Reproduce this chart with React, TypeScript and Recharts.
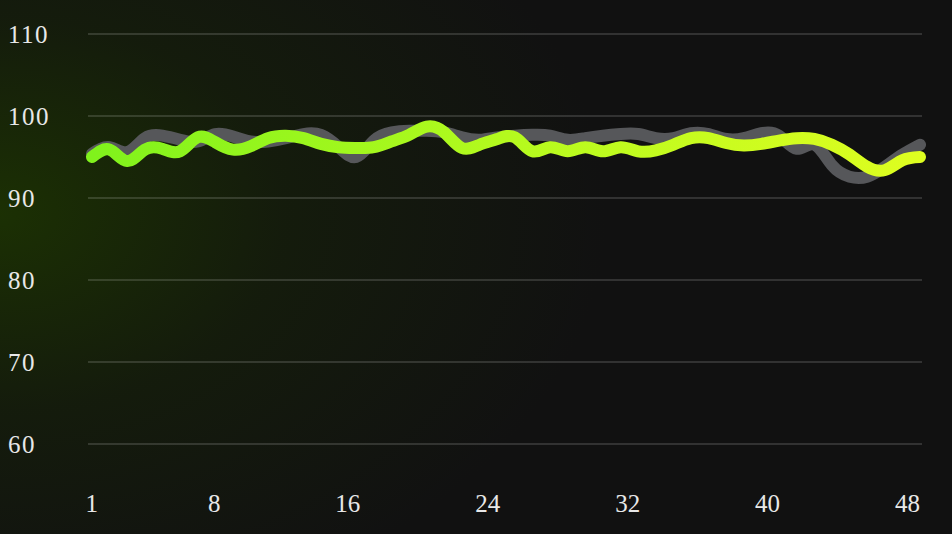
import React from "react";
import { LineChart, Line, XAxis, YAxis, CartesianGrid } from "recharts";

// x categories (1..48)
const days = [
  1, 2, 3, 4, 5, 6, 7, 8, 9, 10, 11, 12, 13, 14, 15, 16, 17, 18, 19, 20, 21, 22, 23, 24,
  25, 26, 27, 28, 29, 30, 31, 32, 33, 34, 35, 36, 37, 38, 39, 40, 41, 42, 43, 44, 45, 46, 47, 48,
];

// grey background series
const baseline = [
  95.4, 96.2, 95.6, 97.3, 97.6, 97.1, 96.9, 97.8, 97.5, 96.9, 96.9, 97.3,
  97.8, 97.7, 96.2, 95.0, 97.0, 98.0, 98.2, 98.2, 98.0, 97.4, 97.1, 97.4,
  97.6, 97.7, 97.6, 97.1, 97.3, 97.6, 97.8, 97.8, 97.3, 97.3, 97.9, 97.8,
  97.2, 97.3, 97.9, 97.6, 96.0, 96.5, 94.0, 92.6, 92.6, 93.8, 95.3, 96.5,
];

// highlighted green series
const current = [
  95.0, 95.9, 94.5, 95.9, 96.0, 95.7, 97.4, 96.8, 95.9, 96.3, 97.3, 97.6,
  97.3, 96.6, 96.2, 96.1, 96.2, 96.9, 97.7, 98.7, 98.0, 96.1, 96.5, 97.2,
  97.4, 95.7, 96.2, 95.7, 96.2, 95.7, 96.2, 95.7, 95.8, 96.5, 97.3, 97.3,
  96.7, 96.4, 96.6, 97.0, 97.3, 97.2, 96.5, 95.3, 93.8, 93.4, 94.6, 95.0,
];

const xTicks = [1, 8, 16, 24, 32, 40, 48];
const yTicks = [60, 70, 80, 90, 100, 110];

const data = days.map((d, i) => ({ day: d, baseline: baseline[i], current: current[i] }));

const FONT = "'Liberation Serif', 'Times New Roman', serif";

// labels are right-aligned, drifting slightly left across the axis
const XTick = ({ x, y, payload }: any) => (
  <text
    x={x + 6 - (6 * (payload.value - 1)) / 47}
    y={y + 51}
    textAnchor="end"
    dominantBaseline="central"
    fill="#e8e8e8"
    fontSize={25}
    fontFamily={FONT}
  >
    {payload.value}
  </text>
);

const YTick = ({ y, payload }: any) => (
  <text
    x={8}
    y={y}
    textAnchor="start"
    dominantBaseline="central"
    fill="#e8e8e8"
    fontSize={25}
    fontFamily={FONT}
    letterSpacing={1.5}
  >
    {payload.value}
  </text>
);

export default function App() {
  return (
    <div
      style={{
        position: "fixed",
        left: 0,
        top: 0,
        width: 952,
        height: 534,
        background:
          "radial-gradient(ellipse 85% 105% at 0% 40%, rgba(30,56,0,0.8) 0%, rgba(24,40,6,0.45) 35%, rgba(17,17,17,0) 75%), #111111",
      }}
    >
      <LineChart
        width={952}
        height={534}
        data={data}
        margin={{ top: 34, right: 30, left: 0, bottom: 0 }}
      >
        <defs>
          <linearGradient id="greenLine" x1="0" y1="0" x2="1" y2="0">
            <stop offset="0%" stopColor="#80f21c" />
            <stop offset="50%" stopColor="#b4fa1e" />
            <stop offset="100%" stopColor="#defe20" />
          </linearGradient>
        </defs>
        <CartesianGrid vertical={false} stroke="rgba(255,255,255,0.14)" strokeWidth={2} />
        <XAxis
          dataKey="day"
          type="number"
          domain={[1, 48]}
          ticks={xTicks}
          axisLine={false}
          tickLine={false}
          padding={{ left: 4, right: 2 }}
          height={90}
          tick={<XTick />}
          interval={0}
        />
        <YAxis
          domain={[60, 110]}
          ticks={yTicks}
          axisLine={false}
          tickLine={false}
          width={88}
          tick={<YTick />}
          interval={0}
        />
        <Line
          type="natural"
          dataKey="baseline"
          stroke="#56575a"
          strokeWidth={12}
          strokeLinecap="round"
          strokeLinejoin="round"
          dot={false}
          isAnimationActive={false}
        />
        <Line
          type="natural"
          dataKey="current"
          stroke="url(#greenLine)"
          strokeWidth={12}
          strokeLinecap="round"
          strokeLinejoin="round"
          dot={false}
          isAnimationActive={false}
        />
      </LineChart>
    </div>
  );
}
